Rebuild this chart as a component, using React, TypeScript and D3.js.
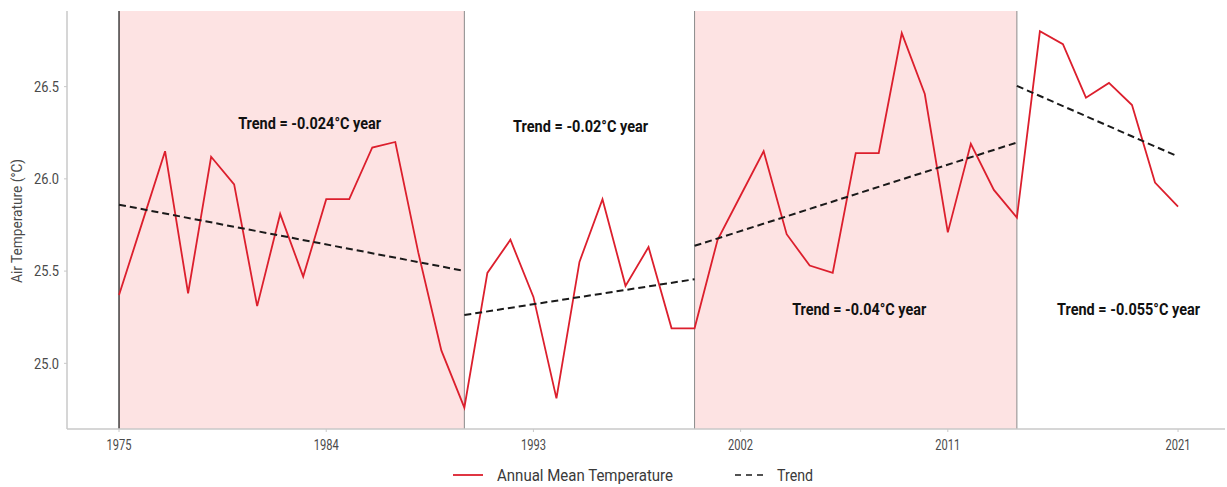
import React from "react";
import * as d3 from "d3";

const years = [
  1975, 1976, 1977, 1978, 1979, 1980, 1981, 1982, 1983, 1984,
  1985, 1986, 1987, 1988, 1989, 1990, 1991, 1992, 1993, 1994,
  1995, 1996, 1997, 1998, 1999, 2000, 2001, 2002, 2003, 2004,
  2005, 2006, 2007, 2008, 2009, 2010, 2011, 2012, 2013, 2014,
  2015, 2016, 2017, 2018, 2019, 2020, 2021,
];
const temps = [
  25.37, 25.76, 26.15, 25.38, 26.12, 25.97, 25.31, 25.81, 25.47, 25.89,
  25.89, 26.17, 26.2, 25.6, 25.07, 24.76, 25.49, 25.67, 25.36, 24.81,
  25.55, 25.89, 25.42, 25.63, 25.19, 25.19, 25.67, 25.91, 26.15, 25.7,
  25.53, 25.49, 26.14, 26.14, 26.79, 26.46, 25.71, 26.19, 25.94, 25.79,
  26.8, 26.73, 26.44, 26.52, 26.4, 25.98, 25.85,
];

const periodStart = [1975, 1990, 2000, 2014];
const periodEnd = [1990, 2000, 2014, 2021];
const periodShaded = [true, false, true, false];
const trendStart = [25.86, 25.262, 25.637, 26.504];
const trendEnd = [25.501, 25.456, 26.197, 26.121];
const trendLabels = [
  "Trend = -0.024°C year",
  "Trend = -0.02°C year",
  "Trend = -0.04°C year",
  "Trend = -0.055°C year",
];
// label anchor positions in data coordinates
const labelYear = [1983.28, 1995.05, 2007.15, 2018.85];
const labelValue = [26.3, 26.285, 25.293, 25.293];
const labelWidth = [143, 135, 134, 143];

const xTicks = [1975, 1984, 1993, 2002, 2011, 2021];
const yTicks = [25.0, 25.5, 26.0, 26.5];

const W = 1227;
const H = 487;
const left = 67;
const right = 1225;
const top = 11;
const bottom = 429;

const FONT = "Roboto, 'Noto Sans', sans-serif";

export default function App() {
  const x = d3.scaleLinear().domain([1972.74, 2023.04]).range([left, right]);
  const y = d3.scaleLinear().domain([24.644, 26.91]).range([bottom, top]);

  const line = d3
    .line<number>()
    .x((_, i) => x(years[i]))
    .y((d) => y(d));

  const axisColor = "#c9c9c9";
  const red = "#dc1f2d";

  return (
    <svg
      width={W}
      height={H}
      style={{ position: "absolute", left: 0, top: 0, background: "#fff" }}
    >
      {/* shaded periods */}
      {periodStart.map((s, i) =>
        periodShaded[i] ? (
          <rect
            key={"sh" + i}
            x={x(s)}
            y={top}
            width={x(periodEnd[i]) - x(s)}
            height={bottom - top}
            fill="#fde3e3"
          />
        ) : null
      )}
      {/* period separators */}
      {periodStart.map((s, i) => (
        <line
          key={"sep" + i}
          x1={x(s)}
          x2={x(s)}
          y1={top}
          y2={bottom}
          stroke={i === 0 ? "#222" : "#8a8a8a"}
          strokeWidth={i === 0 ? 1.3 : 1}
        />
      ))}
      {/* axes */}
      <line x1={left} x2={left} y1={top} y2={bottom} stroke={axisColor} strokeWidth={1.5} />
      <line x1={left} x2={right} y1={bottom} y2={bottom} stroke={axisColor} strokeWidth={1.5} />
      {yTicks.map((t) => (
        <g key={"yt" + t}>
          <line x1={left - 3} x2={left} y1={y(t)} y2={y(t)} stroke={axisColor} />
          <text
            x={left - 8}
            y={y(t)}
            dy="0.35em"
            textAnchor="end"
            fontFamily={FONT}
            fontSize={15}
            fill="#4a4a4a"
            textLength={25}
            lengthAdjust="spacingAndGlyphs"
          >
            {d3.format(".1f")(t)}
          </text>
        </g>
      ))}
      {xTicks.map((t) => (
        <g key={"xt" + t}>
          <line x1={x(t)} x2={x(t)} y1={bottom} y2={bottom + 3} stroke={axisColor} />
          <text
            x={x(t)}
            y={bottom + 21}
            textAnchor="middle"
            fontFamily={FONT}
            fontSize={15}
            fill="#4a4a4a"
            textLength={25}
            lengthAdjust="spacingAndGlyphs"
          >
            {t}
          </text>
        </g>
      ))}
      <text
        transform={`translate(${22},${(top + bottom) / 2 + 1}) rotate(-90)`}
        textAnchor="middle"
        fontFamily={FONT}
        fontSize={14}
        fill="#4a4a4a"
        textLength={124}
        lengthAdjust="spacingAndGlyphs"
      >
        Air Temperature (°C)
      </text>

      {/* data line */}
      <path d={line(temps) || ""} fill="none" stroke={red} strokeWidth={1.8} strokeLinejoin="miter" />

      {/* trend lines */}
      {periodStart.map((s, i) => (
        <line
          key={"tr" + i}
          x1={x(s)}
          x2={x(periodEnd[i])}
          y1={y(trendStart[i])}
          y2={y(trendEnd[i])}
          stroke="#1a1a1a"
          strokeWidth={2}
          strokeDasharray="7,4"
        />
      ))}

      {/* trend labels */}
      {trendLabels.map((l, i) => (
        <text
          key={"lb" + i}
          x={x(labelYear[i])}
          y={y(labelValue[i])}
          dy="0.35em"
          textAnchor="middle"
          fontFamily={FONT}
          fontWeight="bold"
          fontSize={17}
          fill="#111"
          textLength={labelWidth[i]}
          lengthAdjust="spacingAndGlyphs"
        >
          {l}
        </text>
      ))}

      {/* legend */}
      <line x1={453} x2={483} y1={475} y2={475} stroke={red} strokeWidth={1.8} />
      <text
        x={497}
        y={475}
        dy="0.35em"
        fontFamily={FONT}
        fontSize={17}
        fill="#3a3a3a"
        textLength={176}
        lengthAdjust="spacingAndGlyphs"
      >
        Annual Mean Temperature
      </text>
      <line x1={735} x2={767} y1={475} y2={475} stroke="#1a1a1a" strokeWidth={1.5} strokeDasharray="6,5" />
      <text
        x={777}
        y={475}
        dy="0.35em"
        fontFamily={FONT}
        fontSize={17}
        fill="#3a3a3a"
        textLength={36}
        lengthAdjust="spacingAndGlyphs"
      >
        Trend
      </text>
    </svg>
  );
}
